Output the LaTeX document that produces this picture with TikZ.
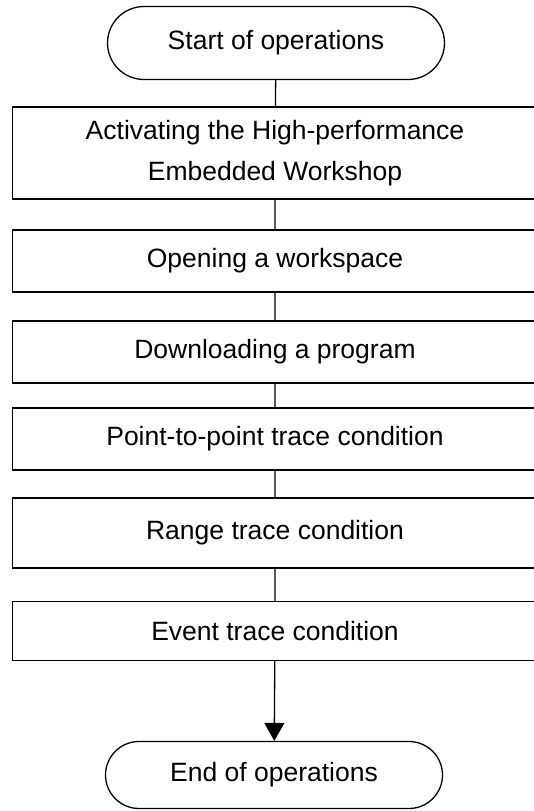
\documentclass[tikz,border=0pt]{standalone}
\usepackage{fontspec}
\setmainfont{Liberation Sans}
\usepackage{tikz}
\usetikzlibrary{shapes.misc,arrows.meta}
\tikzstyle{terminal}=[rounded rectangle,draw=black,fill=white,line width=1.3pt,
                      inner sep=0pt,minimum width=337pt]
\tikzstyle{stepbox}=[rectangle,draw=black,fill=white,line width=1.3pt,
                     inner sep=0pt,minimum width=525pt,align=center]

\begin{document}
\begin{tikzpicture}[x=1pt,y=-1pt,font=\fontsize{26.5}{41}\selectfont]
    \clip (0,0) rectangle (534,811);
    \fill[white] (0,0) rectangle (534,811);
    \node (start) at (276,43) [terminal,minimum height=73pt]{Start of operations};
    \node (s1) at (275,153) [stepbox,minimum height=92pt]
        {Activating the High-performance\\Embedded Workshop};
    \node (s2) at (275,261) [stepbox,minimum height=62pt]{Opening a workspace};
    \node (s3) at (275,352) [stepbox,minimum height=62pt]{Downloading a program};
    \node (s4) at (275,439) [stepbox,minimum height=62pt]{Point-to-point trace condition};
    \node (s5) at (275,533) [stepbox,minimum height=70pt]{Range trace condition};
    \node (s6) at (275,631) [stepbox,minimum height=59pt]{Event trace condition};
    \node (stop) at (274,775) [terminal,minimum height=67pt]{End of operations};
    \draw[line width=1.3pt] (start) -- (s1) -- (s2) -- (s3) -- (s4) -- (s5) -- (s6);
    \draw[line width=1.3pt,-{Triangle[length=18pt,width=20pt]}] (s6) -- (stop);
  \end{tikzpicture}
\end{document}
